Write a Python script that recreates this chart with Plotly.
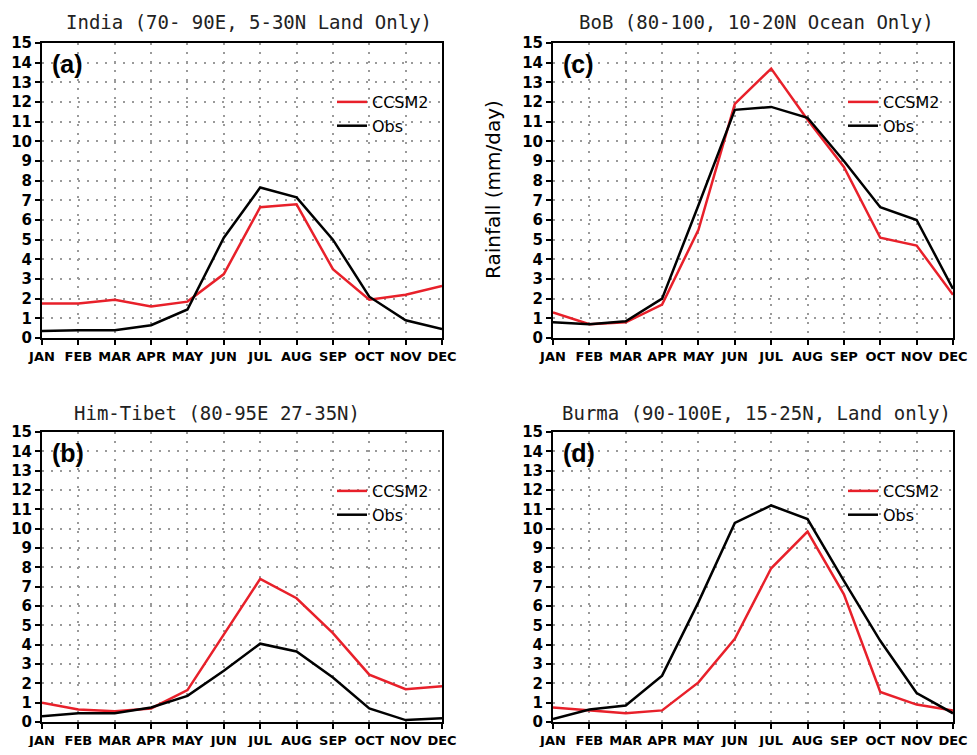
import plotly.graph_objects as go

MONTHS = ["JAN", "FEB", "MAR", "APR", "MAY", "JUN", "JUL", "AUG", "SEP", "OCT", "NOV", "DEC"]

# (a) India
india_ccsm2 = [1.75, 1.75, 1.95, 1.6, 1.85, 3.25, 6.65, 6.8, 3.5, 1.95, 2.2, 2.65]
india_obs = [0.35, 0.4, 0.4, 0.65, 1.45, 5.1, 7.65, 7.15, 5.0, 2.1, 0.9, 0.45]
# (c) BoB
bob_ccsm2 = [1.3, 0.7, 0.8, 1.7, 5.5, 11.9, 13.7, 11.1, 8.7, 5.1, 4.7, 2.2]
bob_obs = [0.8, 0.7, 0.85, 2.0, 6.75, 11.6, 11.75, 11.2, 9.0, 6.65, 6.0, 2.5]
# (b) Him-Tibet
tibet_ccsm2 = [1.0, 0.65, 0.55, 0.7, 1.65, 4.5, 7.4, 6.4, 4.6, 2.45, 1.7, 1.85]
tibet_obs = [0.3, 0.45, 0.45, 0.75, 1.35, 2.65, 4.05, 3.65, 2.3, 0.7, 0.1, 0.2]
# (d) Burma
burma_ccsm2 = [0.75, 0.6, 0.45, 0.6, 2.05, 4.3, 7.95, 9.85, 6.6, 1.55, 0.9, 0.6]
burma_obs = [0.15, 0.65, 0.85, 2.4, 6.2, 10.3, 11.2, 10.5, 7.3, 4.2, 1.5, 0.45]

PANELS = [
    # key, title, label, ccsm2, obs
    ("a", "India (70- 90E, 5-30N Land Only)", "(a)", india_ccsm2, india_obs),
    ("c", "BoB (80-100, 10-20N Ocean Only)", "(c)", bob_ccsm2, bob_obs),
    ("b", "Him-Tibet (80-95E 27-35N)", "(b)", tibet_ccsm2, tibet_obs),
    ("d", "Burma (90-100E, 15-25N, Land only)", "(d)", burma_ccsm2, burma_obs),
]
Y_TICKS = list(range(0, 16))
Y_LABEL = "Rainfall (mm/day)"

# page body has an 8px margin: figure starts at screen (8, 8); keep it inside the window
OFF = 8
W, H = 977 - 2 * OFF, 755 - 2 * OFF


def px(sx):
    return (sx - OFF) / W


def py(sy):
    return 1 - (sy - OFF) / H


# plot-area screen-pixel boxes (left, right, top, bottom)
BOXES = {
    "a": (42, 442, 43, 338),
    "c": (553, 953, 43, 338),
    "b": (42, 442, 432, 722),
    "d": (553, 953, 432, 722),
}
TITLE_POS = {"a": (249, 22), "c": (756, 22), "b": (217, 413), "d": (756, 413)}

RED = "#e8202a"
fig = go.Figure()
layout = {}
annotations = []

for i, (key, title, label, ccsm2, obs) in enumerate(PANELS):
    n = "" if i == 0 else str(i + 1)
    xa, ya = "x" + n, "y" + n
    lg = "legend" + n
    l, r, t, b = BOXES[key]
    fig.add_trace(go.Scatter(x=MONTHS, y=ccsm2, mode="lines", name="CCSM2",
                             line=dict(color=RED, width=2.5), xaxis=xa, yaxis=ya, legend=lg))
    fig.add_trace(go.Scatter(x=MONTHS, y=obs, mode="lines", name="Obs",
                             line=dict(color="black", width=2.5), xaxis=xa, yaxis=ya, legend=lg))
    layout["xaxis" + n] = dict(
        domain=[px(l), px(r)], anchor=ya, type="category", range=[0, 11],
        automargin=False,
        showline=True, mirror=True, linecolor="black", linewidth=2,
        ticks="outside", ticklen=5, tickwidth=2, tickcolor="black",
        showgrid=True, gridcolor="#9a9a9a", griddash="2px,7px", gridwidth=1.5,
        tickfont=dict(family="DejaVu Sans", size=13, color="black", weight="bold"),
        zeroline=False,
    )
    layout["yaxis" + n] = dict(
        domain=[py(b), py(t)], anchor=xa, range=[0, 15],
        automargin=False,
        tickvals=Y_TICKS, ticktext=[str(v) for v in Y_TICKS],
        showline=True, mirror=True, linecolor="black", linewidth=2,
        ticks="outside", ticklen=5, tickwidth=2, tickcolor="black",
        showgrid=True, gridcolor="#9a9a9a", griddash="2px,7px", gridwidth=1.5,
        tickfont=dict(family="DejaVu Sans", size=15, color="black", weight="bold"),
        zeroline=False,
    )
    layout[lg] = dict(
        x=px(l + 290), y=py(t + 42), xanchor="left", yanchor="top",
        bgcolor="rgba(0,0,0,0)", borderwidth=0,
        font=dict(family="DejaVu Sans", size=16, color="black"),
        tracegroupgap=0, itemwidth=30,
    )
    tx, ty = TITLE_POS[key]
    annotations.append(dict(text=title, x=px(tx), y=py(ty), xref="paper", yref="paper",
                            xanchor="center", yanchor="middle", showarrow=False,
                            font=dict(family="DejaVu Sans Mono", size=19, color="#222")))
    annotations.append(dict(text="<b>" + label + "</b>", x=px(l + 8), y=py(t + 21),
                            xref="paper", yref="paper", xanchor="left", yanchor="middle",
                            showarrow=False,
                            font=dict(family="Liberation Sans", size=25, color="black")))

annotations.append(dict(text=Y_LABEL, x=px(493), y=py(190), xref="paper", yref="paper",
                        xanchor="center", yanchor="middle", textangle=-90, showarrow=False,
                        font=dict(family="DejaVu Sans", size=20, color="black")))

fig.update_layout(
    width=W, height=H, margin=dict(l=0, r=0, t=0, b=0, autoexpand=False),
    paper_bgcolor="white", plot_bgcolor="white",
    showlegend=True, annotations=annotations, **layout,
)
fig.write_html("out.html")
